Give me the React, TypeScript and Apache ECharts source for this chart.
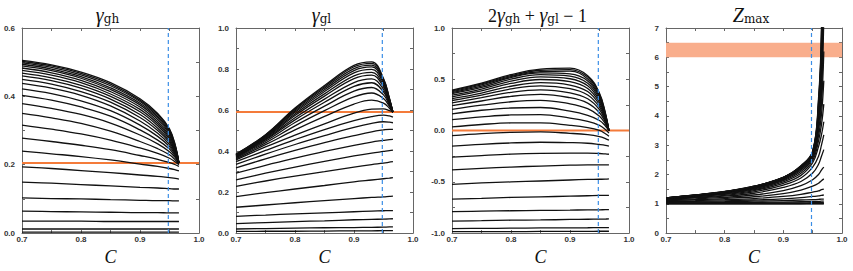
import React, { useEffect, useRef } from 'react';
import * as echarts from 'echarts';

// x positions (C) at which each curve was read
const X_VALUES = [0.7, 0.75, 0.8, 0.85, 0.9, 0.93, 0.95, 0.96, 0.966];
const X_VALUES_Z = [0.7, 0.75, 0.8, 0.85, 0.9, 0.93, 0.95, 0.96, 0.965, 0.969];

// γ_gh curves
const GAMMA_GH: number[][] = [
  [0.003, 0.003, 0.003, 0.003, 0.003, 0.003, 0.003, 0.003, 0.003],
  [0.012, 0.012, 0.012, 0.012, 0.012, 0.012, 0.012, 0.012, 0.012],
  [0.035, 0.035, 0.035, 0.034, 0.034, 0.034, 0.034, 0.034, 0.034],
  [0.064, 0.063, 0.062, 0.061, 0.06, 0.06, 0.059, 0.059, 0.059],
  [0.103, 0.101, 0.1, 0.098, 0.096, 0.095, 0.095, 0.094, 0.094],
  [0.149, 0.146, 0.142, 0.138, 0.134, 0.132, 0.13, 0.129, 0.129],
  [0.194, 0.189, 0.183, 0.177, 0.17, 0.166, 0.162, 0.16, 0.158],
  [0.24, 0.232, 0.224, 0.214, 0.202, 0.195, 0.189, 0.185, 0.182],
  [0.278, 0.268, 0.257, 0.244, 0.227, 0.216, 0.206, 0.2, 0.195],
  [0.316, 0.304, 0.29, 0.272, 0.249, 0.233, 0.219, 0.208, 0.2],
  [0.35, 0.337, 0.321, 0.298, 0.268, 0.247, 0.229, 0.214, 0.203],
  [0.379, 0.365, 0.347, 0.322, 0.287, 0.261, 0.238, 0.22, 0.205],
  [0.403, 0.389, 0.369, 0.342, 0.302, 0.272, 0.246, 0.224, 0.205],
  [0.422, 0.408, 0.387, 0.358, 0.316, 0.283, 0.253, 0.228, 0.205],
  [0.438, 0.424, 0.403, 0.372, 0.328, 0.292, 0.259, 0.231, 0.205],
  [0.45, 0.436, 0.414, 0.383, 0.338, 0.3, 0.265, 0.234, 0.205],
  [0.46, 0.446, 0.424, 0.392, 0.347, 0.307, 0.27, 0.237, 0.205],
  [0.468, 0.454, 0.432, 0.4, 0.355, 0.314, 0.275, 0.24, 0.205],
  [0.476, 0.462, 0.44, 0.407, 0.362, 0.32, 0.28, 0.243, 0.205],
  [0.483, 0.469, 0.447, 0.414, 0.369, 0.326, 0.285, 0.246, 0.205],
  [0.489, 0.475, 0.453, 0.42, 0.375, 0.332, 0.29, 0.248, 0.205],
  [0.494, 0.48, 0.458, 0.425, 0.38, 0.337, 0.294, 0.25, 0.205],
  [0.498, 0.485, 0.463, 0.431, 0.385, 0.341, 0.298, 0.252, 0.205],
  [0.502, 0.489, 0.467, 0.436, 0.389, 0.346, 0.302, 0.254, 0.205],
  [0.505, 0.492, 0.471, 0.44, 0.393, 0.35, 0.305, 0.256, 0.205],
];

// γ_gl curves
const GAMMA_GL: number[][] = [
  [0.008, 0.009, 0.009, 0.01, 0.011, 0.011, 0.012, 0.012, 0.012],
  [0.02, 0.022, 0.024, 0.026, 0.027, 0.028, 0.029, 0.03, 0.03],
  [0.046, 0.051, 0.056, 0.06, 0.065, 0.067, 0.068, 0.069, 0.07],
  [0.082, 0.088, 0.094, 0.099, 0.104, 0.107, 0.109, 0.11, 0.11],
  [0.126, 0.137, 0.148, 0.158, 0.168, 0.174, 0.177, 0.179, 0.18],
  [0.178, 0.197, 0.215, 0.232, 0.25, 0.259, 0.265, 0.268, 0.27],
  [0.228, 0.254, 0.278, 0.3, 0.322, 0.334, 0.341, 0.346, 0.349],
  [0.26, 0.292, 0.322, 0.35, 0.376, 0.39, 0.398, 0.402, 0.405],
  [0.292, 0.33, 0.365, 0.398, 0.428, 0.444, 0.452, 0.456, 0.457],
  [0.318, 0.362, 0.403, 0.441, 0.475, 0.494, 0.503, 0.506, 0.506],
  [0.335, 0.385, 0.432, 0.475, 0.515, 0.535, 0.543, 0.541, 0.538],
  [0.348, 0.403, 0.456, 0.505, 0.548, 0.568, 0.575, 0.571, 0.565],
  [0.357, 0.42, 0.478, 0.533, 0.585, 0.604, 0.606, 0.597, 0.59],
  [0.362, 0.431, 0.503, 0.569, 0.629, 0.648, 0.634, 0.609, 0.59],
  [0.367, 0.44, 0.523, 0.597, 0.664, 0.683, 0.656, 0.618, 0.59],
  [0.37, 0.448, 0.539, 0.619, 0.692, 0.71, 0.674, 0.625, 0.59],
  [0.373, 0.454, 0.552, 0.638, 0.715, 0.733, 0.689, 0.631, 0.59],
  [0.375, 0.458, 0.562, 0.653, 0.734, 0.752, 0.701, 0.636, 0.59],
  [0.377, 0.463, 0.573, 0.668, 0.753, 0.77, 0.713, 0.641, 0.59],
  [0.379, 0.467, 0.581, 0.679, 0.767, 0.784, 0.721, 0.645, 0.59],
  [0.381, 0.47, 0.589, 0.69, 0.781, 0.798, 0.73, 0.648, 0.59],
  [0.382, 0.473, 0.595, 0.699, 0.792, 0.81, 0.738, 0.651, 0.59],
  [0.383, 0.476, 0.601, 0.707, 0.802, 0.819, 0.744, 0.654, 0.59],
  [0.384, 0.478, 0.606, 0.714, 0.811, 0.828, 0.75, 0.656, 0.59],
  [0.385, 0.48, 0.61, 0.72, 0.818, 0.835, 0.754, 0.658, 0.59],
];

// 2γ_gh + γ_gl − 1 curves
const COMBINED: number[][] = [
  [-0.986, -0.985, -0.985, -0.984, -0.983, -0.983, -0.982, -0.982, -0.982],
  [-0.956, -0.954, -0.952, -0.95, -0.949, -0.948, -0.947, -0.946, -0.946],
  [-0.884, -0.879, -0.874, -0.872, -0.867, -0.865, -0.864, -0.863, -0.862],
  [-0.79, -0.786, -0.782, -0.779, -0.776, -0.773, -0.773, -0.772, -0.772],
  [-0.668, -0.661, -0.652, -0.646, -0.64, -0.636, -0.633, -0.633, -0.632],
  [-0.524, -0.511, -0.501, -0.492, -0.482, -0.477, -0.475, -0.474, -0.472],
  [-0.384, -0.368, -0.356, -0.346, -0.338, -0.334, -0.335, -0.334, -0.335],
  [-0.26, -0.244, -0.23, -0.222, -0.22, -0.22, -0.224, -0.228, -0.231],
  [-0.152, -0.134, -0.121, -0.114, -0.118, -0.124, -0.136, -0.144, -0.153],
  [-0.05, -0.03, -0.017, -0.013, -0.027, -0.04, -0.059, -0.078, -0.094],
  [0.035, 0.059, 0.074, 0.075, 0.051, 0.029, 0.001, -0.031, -0.056],
  [0.106, 0.133, 0.152, 0.155, 0.122, 0.09, 0.051, 0.011, -0.025],
  [0.163, 0.198, 0.22, 0.225, 0.189, 0.148, 0.098, 0.045, 0.0],
  [0.206, 0.247, 0.281, 0.295, 0.261, 0.214, 0.14, 0.065, 0.0],
  [0.243, 0.288, 0.333, 0.353, 0.32, 0.267, 0.174, 0.08, 0.0],
  [0.27, 0.32, 0.373, 0.397, 0.368, 0.31, 0.204, 0.093, 0.0],
  [0.293, 0.346, 0.406, 0.436, 0.409, 0.347, 0.229, 0.105, 0.0],
  [0.311, 0.366, 0.432, 0.467, 0.444, 0.38, 0.251, 0.116, 0.0],
  [0.329, 0.387, 0.459, 0.498, 0.477, 0.41, 0.273, 0.127, 0.0],
  [0.345, 0.405, 0.481, 0.523, 0.505, 0.436, 0.291, 0.137, 0.0],
  [0.359, 0.42, 0.501, 0.546, 0.531, 0.462, 0.31, 0.144, 0.0],
  [0.37, 0.433, 0.517, 0.562, 0.552, 0.484, 0.326, 0.151, 0.0],
  [0.379, 0.446, 0.525, 0.575, 0.58, 0.503, 0.34, 0.158, 0.0],
  [0.388, 0.455, 0.535, 0.588, 0.595, 0.522, 0.354, 0.164, 0.0],
  [0.395, 0.462, 0.545, 0.598, 0.608, 0.535, 0.364, 0.17, 0.0],
];

// Z_max curves (read at X_VALUES_Z)
const Z_MAX: number[][] = [
  [1.0, 1.0, 1.0, 1.0, 1.0, 1.0, 1.0, 1.0, 1.0, 1.0],
  [1.005, 1.005, 1.005, 1.005, 1.005, 1.005, 1.006, 1.006, 1.006, 1.006],
  [1.01, 1.01, 1.01, 1.01, 1.01, 1.01, 1.02, 1.02, 1.02, 1.02],
  [1.02, 1.02, 1.02, 1.03, 1.03, 1.03, 1.04, 1.04, 1.04, 1.04],
  [1.03, 1.03, 1.04, 1.05, 1.06, 1.07, 1.08, 1.08, 1.09, 1.09],
  [1.05, 1.06, 1.07, 1.09, 1.11, 1.13, 1.14, 1.15, 1.16, 1.16],
  [1.07, 1.08, 1.1, 1.13, 1.17, 1.21, 1.25, 1.27, 1.29, 1.3],
  [1.09, 1.11, 1.14, 1.18, 1.25, 1.32, 1.4, 1.44, 1.48, 1.5],
  [1.11, 1.14, 1.18, 1.24, 1.35, 1.47, 1.6, 1.7, 1.79, 1.85],
  [1.13, 1.17, 1.22, 1.3, 1.45, 1.62, 1.82, 2.0, 2.15, 2.25],
  [1.15, 1.2, 1.26, 1.36, 1.56, 1.76, 2.05, 2.35, 2.62, 2.85],
  [1.16, 1.22, 1.29, 1.41, 1.64, 1.88, 2.25, 2.62, 3.0, 3.35],
  [1.17, 1.24, 1.32, 1.45, 1.7, 1.97, 2.4, 2.95, 3.35, 3.8],
  [1.18, 1.25, 1.34, 1.48, 1.75, 2.04, 2.48, 3.15, 3.7, 4.4],
  [1.185, 1.26, 1.36, 1.51, 1.79, 2.1, 2.55, 3.33, 4.05, 5.2],
  [1.19, 1.27, 1.37, 1.53, 1.82, 2.15, 2.61, 3.5, 4.4, 6.2],
  [1.19, 1.28, 1.38, 1.55, 1.84, 2.19, 2.65, 3.65, 4.75, 7.4],
  [1.195, 1.285, 1.39, 1.56, 1.86, 2.22, 2.69, 3.8, 5.1, 8.6],
  [1.195, 1.29, 1.4, 1.57, 1.87, 2.24, 2.72, 3.95, 5.45, 9.8],
  [1.2, 1.29, 1.405, 1.58, 1.88, 2.25, 2.74, 4.08, 5.8, 11.0],
  [1.2, 1.295, 1.41, 1.585, 1.89, 2.26, 2.76, 4.2, 6.1, 12.0],
  [1.2, 1.295, 1.41, 1.59, 1.895, 2.27, 2.77, 4.3, 6.4, 13.0],
  [1.2, 1.3, 1.415, 1.595, 1.9, 2.28, 2.78, 4.4, 6.6, 14.0],
  [1.2, 1.3, 1.415, 1.6, 1.9, 2.29, 2.79, 4.5, 6.8, 15.0],
  [1.2, 1.3, 1.42, 1.6, 1.9, 2.3, 2.8, 4.6, 7.0, 16.0],
];

// reference markers
const REF_LINES = [0.205, 0.59, 0.0];
const Z_BAND = [6.0, 6.5];
const DASHED_X = 0.948;

// axis settings per panel
const Y_MIN = [0, 0, -1, 0];
const Y_MAX = [0.6, 1.0, 1.0, 7];
const Y_TICK_STEP = [0.1, 0.1, 0.25, 0.5];
const Y_LABEL_STEP = [0.2, 0.2, 0.5, 1];
const Y_DECIMALS = [1, 1, 1, 0];
const X_MIN = 0.7;
const X_MAX = 1.0;
const X_TICK_STEP = 0.05;
const X_LABEL_STEP = 0.1;

const PANEL_DATA = [GAMMA_GH, GAMMA_GL, COMBINED, Z_MAX];
const PANEL_X = [X_VALUES, X_VALUES, X_VALUES, X_VALUES_Z];

const GRID_LEFT = [22, 236, 452, 666];
const GRID_WIDTH = [177, 177, 177, 176];
const GRID_TOP = 28;
const GRID_HEIGHT = 209;

const TITLE_TEXT = [
  '{g|γ}{s|gh}',
  '{g|γ}{s|gl}',
  '{n|2}{g|γ}{s|gh}{n| + }{g|γ}{s|gl}{n| − 1}',
  '{g|Z}{s|max}',
];

const ORANGE = '#f47b3a';
const BAND = '#f9ae8c';
const BLUE = '#3a8ee6';
const AXIS = '#666';
const LABEL_FONT = 'Liberation Sans, Arial, sans-serif';

function onStep(v: number, step: number) {
  const r = v / step;
  return Math.abs(r - Math.round(r)) < 1e-6;
}

export default function App() {
  const ref = useRef<HTMLDivElement>(null);
  useEffect(() => {
    document.body.style.margin = '0';
    if (!ref.current) return;
    const chart = echarts.init(ref.current, undefined, { renderer: 'svg' });

    const grid: any[] = [];
    const xAxis: any[] = [];
    const yAxis: any[] = [];
    const series: any[] = [];
    const graphic: any[] = [];

    const tick = { show: true, inside: true, length: 3, lineStyle: { color: AXIS, width: 1 } };
    const line = { show: true, onZero: false, lineStyle: { color: AXIS, width: 1 } };

    for (let i = 0; i < 4; i++) {
      grid.push({ left: GRID_LEFT[i], top: GRID_TOP, width: GRID_WIDTH[i], height: GRID_HEIGHT, containLabel: false });
      const xBase = {
        type: 'value', gridIndex: i, min: X_MIN, max: X_MAX, interval: X_TICK_STEP,
        axisLine: line, axisTick: tick, splitLine: { show: false },
      };
      xAxis.push({
        ...xBase, position: 'bottom',
        name: 'C', nameLocation: 'middle', nameGap: 8,
        nameTextStyle: { fontFamily: 'Liberation Serif, serif', fontStyle: 'italic', fontSize: 18, color: '#111', verticalAlign: 'top' },
        axisLabel: {
          show: true, margin: 2, fontSize: 8, fontWeight: 'bold', fontFamily: LABEL_FONT, color: '#333',
          formatter: (v: number) => (onStep(v, X_LABEL_STEP) ? v.toFixed(1) : ''),
        },
      });
      xAxis.push({ ...xBase, position: 'top', axisLabel: { show: false } });
      const yBase = {
        type: 'value', gridIndex: i, min: Y_MIN[i], max: Y_MAX[i], interval: Y_TICK_STEP[i],
        axisLine: line, axisTick: tick, splitLine: { show: false },
      };
      yAxis.push({
        ...yBase, position: 'left',
        axisLabel: {
          show: true, margin: 7, fontSize: 8, fontWeight: 'bold', fontFamily: LABEL_FONT, color: '#333',
          formatter: (v: number) => (onStep(v, Y_LABEL_STEP[i]) ? v.toFixed(Y_DECIMALS[i]) : ''),
        },
      });
      yAxis.push({ ...yBase, position: 'right', axisLabel: { show: false } });

      const xi = i * 2;
      const yi = i * 2;

      // reference (orange) line or band, under the curves
      if (i < 3) {
        series.push({
          type: 'line', xAxisIndex: xi, yAxisIndex: yi, z: 1, silent: true,
          showSymbol: false, symbol: 'none',
          lineStyle: { color: ORANGE, width: 2 },
          data: [[X_MIN, REF_LINES[i]], [X_MAX, REF_LINES[i]]],
        });
      } else {
        series.push({
          type: 'line', xAxisIndex: xi, yAxisIndex: yi, data: [], z: 1, silent: true,
          markArea: {
            silent: true, itemStyle: { color: BAND, opacity: 1 }, label: { show: false },
            data: [[{ yAxis: Z_BAND[0] }, { yAxis: Z_BAND[1] }]],
          },
        });
      }

      const xs = PANEL_X[i];
      PANEL_DATA[i].forEach((ys) => {
        series.push({
          type: 'line', xAxisIndex: xi, yAxisIndex: yi, z: 2, silent: true,
          showSymbol: false, symbol: 'none', smooth: 0.4, clip: true,
          lineStyle: { color: '#111', width: 1.3 },
          data: xs.map((x, k) => [x, ys[k]]),
        });
      });

      series.push({
        type: 'line', xAxisIndex: xi, yAxisIndex: yi, z: 3, silent: true,
        showSymbol: false, symbol: 'none',
        lineStyle: { color: BLUE, width: 1.2, type: [4, 3] },
        data: [[DASHED_X, Y_MIN[i]], [DASHED_X, Y_MAX[i]]],
      });

      graphic.push({
        type: 'text',
        x: GRID_LEFT[i] + GRID_WIDTH[i] / 2 - 3,
        y: 15,
        style: {
          text: TITLE_TEXT[i],
          align: 'center',
          verticalAlign: 'middle',
          rich: {
            g: { fontFamily: 'Liberation Serif, serif', fontStyle: 'italic', fontSize: 20, lineHeight: 20, fill: '#111', verticalAlign: 'bottom' },
            s: { fontFamily: 'DejaVu Serif, serif', fontSize: 12, lineHeight: 14, fill: '#111', verticalAlign: 'bottom' },
            n: { fontFamily: 'Liberation Serif, serif', fontSize: 18, lineHeight: 20, fill: '#111', verticalAlign: 'bottom' },
          },
        },
      });
    }

    chart.setOption({
      animation: false,
      backgroundColor: '#fff',
      grid, xAxis, yAxis, series, graphic,
    });
    return () => chart.dispose();
  }, []);
  return <div ref={ref} style={{ width: 853, height: 271 }} />;
}
